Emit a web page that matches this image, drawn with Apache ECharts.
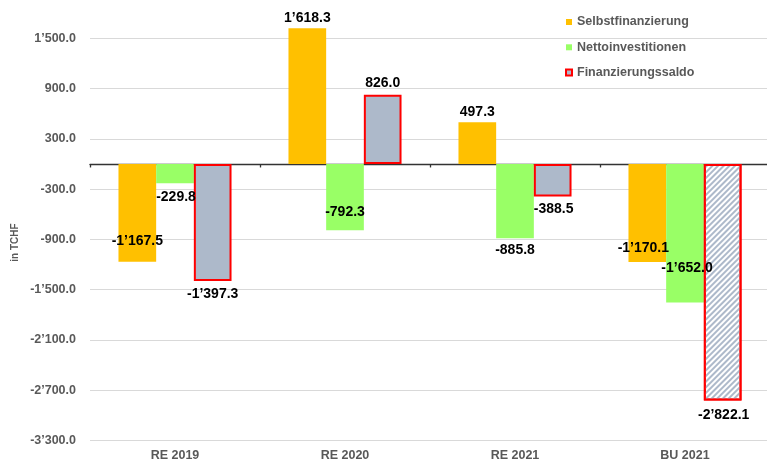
<!DOCTYPE html>
<html>
<head>
<meta charset="utf-8">
<script src="https://cdn.jsdelivr.net/npm/echarts@6/dist/echarts.min.js"></script>
<style>
  html, body { margin: 0; padding: 0; background: #fff; }
  #chart { width: 767px; height: 463px; }
</style>
</head>
<body>
<div id="chart"></div>
<script>
const categories = ['RE 2019', 'RE 2020', 'RE 2021', 'BU 2021']
const selbstfinanzierung = [-1167.5, 1618.3, 497.3, -1170.1]
const nettoinvestitionen = [-229.8, -792.3, -885.8, -1652.0]
const finanzierungssaldo = [-1397.3, 826.0, -388.5, -2822.1]
const yTicks = { min: -3300, max: 2100, interval: 600 }

// where Excel put each data label: [position, distance, x shift]
const labelSpots = {
  selbst: [['insideBottom', 14, 0], ['top', 3.5, 0], ['top', 3, 0], ['insideBottom', 7, -4]],
  netto: [['bottom', 6.5, 1], ['insideBottom', 11, 0], ['bottom', 5, 0], ['insideBottom', 27, 2]],
  saldo: [['bottom', 6, 0], ['top', 5, 0], ['bottom', 5.5, 1], ['bottom', 7.5, 1]]
}

const font = '"Liberation Sans", Arial, sans-serif'
const grey = '#595959'

function fmt(v) {
  const parts = Math.abs(v).toFixed(1).split('.')
  const whole = parts[0].replace(/\B(?=(\d{3})+(?!\d))/g, '\u2019')
  return (v < 0 ? '-' : '') + whole + '.' + parts[1]
}

function withLabels(values, spots, extra) {
  return values.map((v, i) => {
    const item = {
      value: v,
      label: { position: spots[i][0], distance: spots[i][1], offset: [spots[i][2], 0] }
    }
    if (extra) Object.assign(item, extra(i))
    return item
  })
}

const chart = echarts.init(document.getElementById('chart'))

const labelStyle = {
  show: true,
  color: '#000',
  fontFamily: font,
  fontWeight: 'bold',
  fontSize: 14,
  formatter: p => fmt(p.value)
}

const zeroAxis = (pos) => ({
  type: 'category',
  data: categories,
  position: pos,
  axisLine: { show: true, onZero: true, lineStyle: { color: '#333', width: 1.4 } },
  axisTick: { show: true, interval: 0, length: 3.5, lineStyle: { color: '#333', width: 1.3 } },
  axisLabel: { show: false },
  splitLine: { show: false }
})

chart.setOption({
  backgroundColor: '#fff',
  animation: false,
  textStyle: { fontFamily: font },
  grid: { left: 90, right: -3, top: -12, bottom: 22.5, outerBoundsMode: 'none', containLabel: false },
  legend: {
    orient: 'vertical',
    left: 565,
    top: 15.5,
    padding: 0,
    itemGap: 12.3,
    itemWidth: 6,
    itemHeight: 6,
    icon: 'rect',
    textStyle: { color: grey, fontFamily: font, fontWeight: 'bold', fontSize: 12.5 },
    data: ['Selbstfinanzierung', 'Nettoinvestitionen', 'Finanzierungssaldo']
  },
  graphic: [{
    type: 'text',
    x: 15,
    y: 242.5,
    rotation: Math.PI / 2,
    style: {
      text: 'in TCHF',
      fill: grey,
      font: 'bold 10px ' + font,
      align: 'center',
      verticalAlign: 'middle'
    }
  }],
  xAxis: [
    {
      type: 'category',
      data: categories,
      position: 'bottom',
      axisLine: { show: false, onZero: false },
      axisTick: { show: false },
      axisLabel: { color: grey, fontFamily: font, fontWeight: 'bold', fontSize: 12.5, margin: 9 }
    },
    zeroAxis('bottom'),
    zeroAxis('top')
  ],
  yAxis: {
    type: 'value',
    min: yTicks.min,
    max: yTicks.max,
    interval: yTicks.interval,
    axisLine: { show: false },
    axisTick: { show: false },
    axisLabel: { color: grey, fontFamily: font, fontWeight: 'bold', fontSize: 12.5, margin: 14, formatter: fmt },
    splitLine: { lineStyle: { color: '#d9d9d9', width: 1 } }
  },
  series: [
    {
      name: 'Selbstfinanzierung',
      type: 'bar',
      barGap: '0%',
      barCategoryGap: '33.5%',
      itemStyle: { color: '#FFC000' },
      label: labelStyle,
      data: withLabels(selbstfinanzierung, labelSpots.selbst)
    },
    {
      name: 'Nettoinvestitionen',
      type: 'bar',
      barGap: '0%',
      barCategoryGap: '33.5%',
      itemStyle: { color: '#99FF66' },
      label: labelStyle,
      data: withLabels(nettoinvestitionen, labelSpots.netto)
    },
    {
      name: 'Finanzierungssaldo',
      type: 'bar',
      barGap: '0%',
      barCategoryGap: '33.5%',
      itemStyle: { color: '#ADB9CA', borderColor: '#FF0000', borderWidth: 2 },
      label: labelStyle,
      data: withLabels(finanzierungssaldo, labelSpots.saldo, i => i === 3 ? {
        itemStyle: {
          color: '#ffffff',
          decal: {
            symbol: 'rect',
            symbolSize: 1,
            color: '#ADB9CA',
            dashArrayX: [1, 0],
            dashArrayY: [1.6, 2],
            rotation: -Math.PI / 4
          }
        }
      } : {})
    }
  ]
})
</script>
</body>
</html>
